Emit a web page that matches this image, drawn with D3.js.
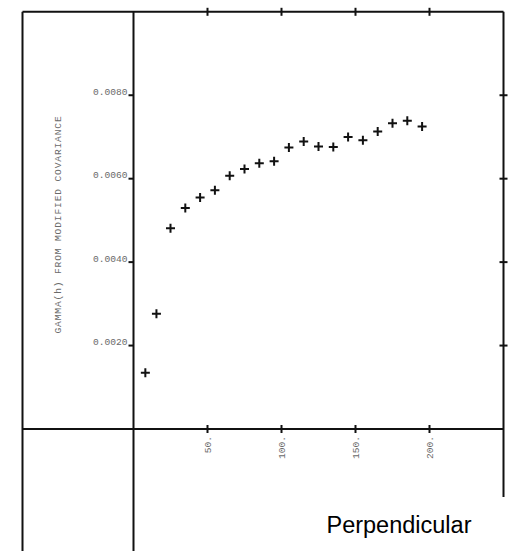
<!DOCTYPE html>
<html>
<head>
<meta charset="utf-8">
<script src="https://cdn.jsdelivr.net/npm/d3@7"></script>
<style>
  html, body { margin: 0; padding: 0; background: #fff; }
  svg { display: block; }
</style>
</head>
<body>
<svg id="chart" width="512" height="551"></svg>
<script>
// Lag distance h and the semivariogram estimate at each lag
const lags = [8, 15.5, 25, 35, 45, 55, 65, 75, 85, 95, 105, 115, 125, 135, 145, 155, 165, 175, 185, 195];
const gammaValues = [0.00135, 0.00276, 0.00481, 0.00530, 0.00555, 0.00572, 0.00607, 0.00623, 0.00637, 0.00642,
                     0.00675, 0.00689, 0.00677, 0.00676, 0.00700, 0.00692, 0.00713, 0.00733, 0.00739, 0.00725];
const xTicks = [50, 100, 150, 200];
const xTickLabels = ["50.", "100.", "150.", "200."];
const yTicks = [0.002, 0.004, 0.006, 0.008];
const yTickLabels = ["0.0020", "0.0040", "0.0060", "0.0080"];
const yTitle = "GAMMA(h) FROM MODIFIED COVARIANCE";
const caption = "Perpendicular";

const svg = d3.select("#chart");

const x = d3.scaleLinear().domain([-75, 250]).range([22.5, 503.5]);
const y = d3.scaleLinear().domain([0, 0.010]).range([429, 11.8]);

const ink = "#111";
const frame = svg.append("g").attr("stroke", ink).attr("stroke-width", 2).attr("fill", "none");
const yTop = y(0.010);

// outer frame (bottom edge runs off the page)
frame.append("line").attr("x1", x(-75)).attr("x2", x(250)).attr("y1", yTop).attr("y2", yTop);
frame.append("line").attr("x1", x(-75)).attr("x2", x(-75)).attr("y1", yTop).attr("y2", 551);
frame.append("line").attr("x1", x(250)).attr("x2", x(250)).attr("y1", yTop).attr("y2", 497);

// axes through the origin
frame.append("line").attr("x1", x(0)).attr("x2", x(0)).attr("y1", yTop).attr("y2", 551);
frame.append("line").attr("x1", x(-75)).attr("x2", x(250)).attr("y1", y(0)).attr("y2", y(0));

// tick marks
const ticks = svg.append("g").attr("stroke", ink).attr("stroke-width", 2);
xTicks.forEach(v => {
  ticks.append("line").attr("x1", x(v)).attr("x2", x(v)).attr("y1", yTop - 4).attr("y2", yTop + 4);
  ticks.append("line").attr("x1", x(v)).attr("x2", x(v)).attr("y1", y(0) - 4).attr("y2", y(0) + 4);
});
yTicks.forEach(v => {
  ticks.append("line").attr("x1", x(0) - 5).attr("x2", x(0)).attr("y1", y(v)).attr("y2", y(v));
  ticks.append("line").attr("x1", x(250) - 4).attr("x2", x(250) + 4).attr("y1", y(v)).attr("y2", y(v));
});

// tick labels
const mono = "'Liberation Mono', 'DejaVu Sans Mono', monospace";
const labelColor = "#6a6a6a";
svg.append("g").selectAll("text").data(yTicks).join("text")
  .attr("x", x(0) - 6)
  .attr("y", d => y(d) - 0.5)
  .attr("text-anchor", "end")
  .attr("font-family", mono)
  .attr("font-size", 9.6)
  .attr("fill", labelColor)
  .text((d, i) => yTickLabels[i]);

svg.append("g").selectAll("text").data(xTicks).join("text")
  .attr("transform", d => `translate(${x(d) + 3.5},${y(0) + 7}) rotate(-90)`)
  .attr("text-anchor", "end")
  .attr("font-family", mono)
  .attr("font-size", 9.6)
  .attr("fill", labelColor)
  .text((d, i) => xTickLabels[i]);

// y-axis title
svg.append("text")
  .attr("transform", `translate(${61},${224.5}) rotate(-90)`)
  .attr("text-anchor", "middle")
  .attr("font-family", mono)
  .attr("font-size", 9.6)
  .attr("letter-spacing", 0.85)
  .attr("fill", labelColor)
  .text(yTitle);

// data points as plus markers
svg.append("g").selectAll("path").data(lags).join("path")
  .attr("transform", (d, i) => `translate(${x(d)},${y(gammaValues[i])})`)
  .attr("d", "M-4.5,0H4.5M0,-4.5V4.5")
  .attr("stroke", ink)
  .attr("stroke-width", 2)
  .attr("fill", "none");

// caption
svg.append("text")
  .attr("x", 399)
  .attr("y", 533)
  .attr("text-anchor", "middle")
  .attr("font-family", "'Liberation Sans', Arial, sans-serif")
  .attr("font-size", 23.5)
  .attr("fill", "#000")
  .text(caption);
</script>
</body>
</html>
